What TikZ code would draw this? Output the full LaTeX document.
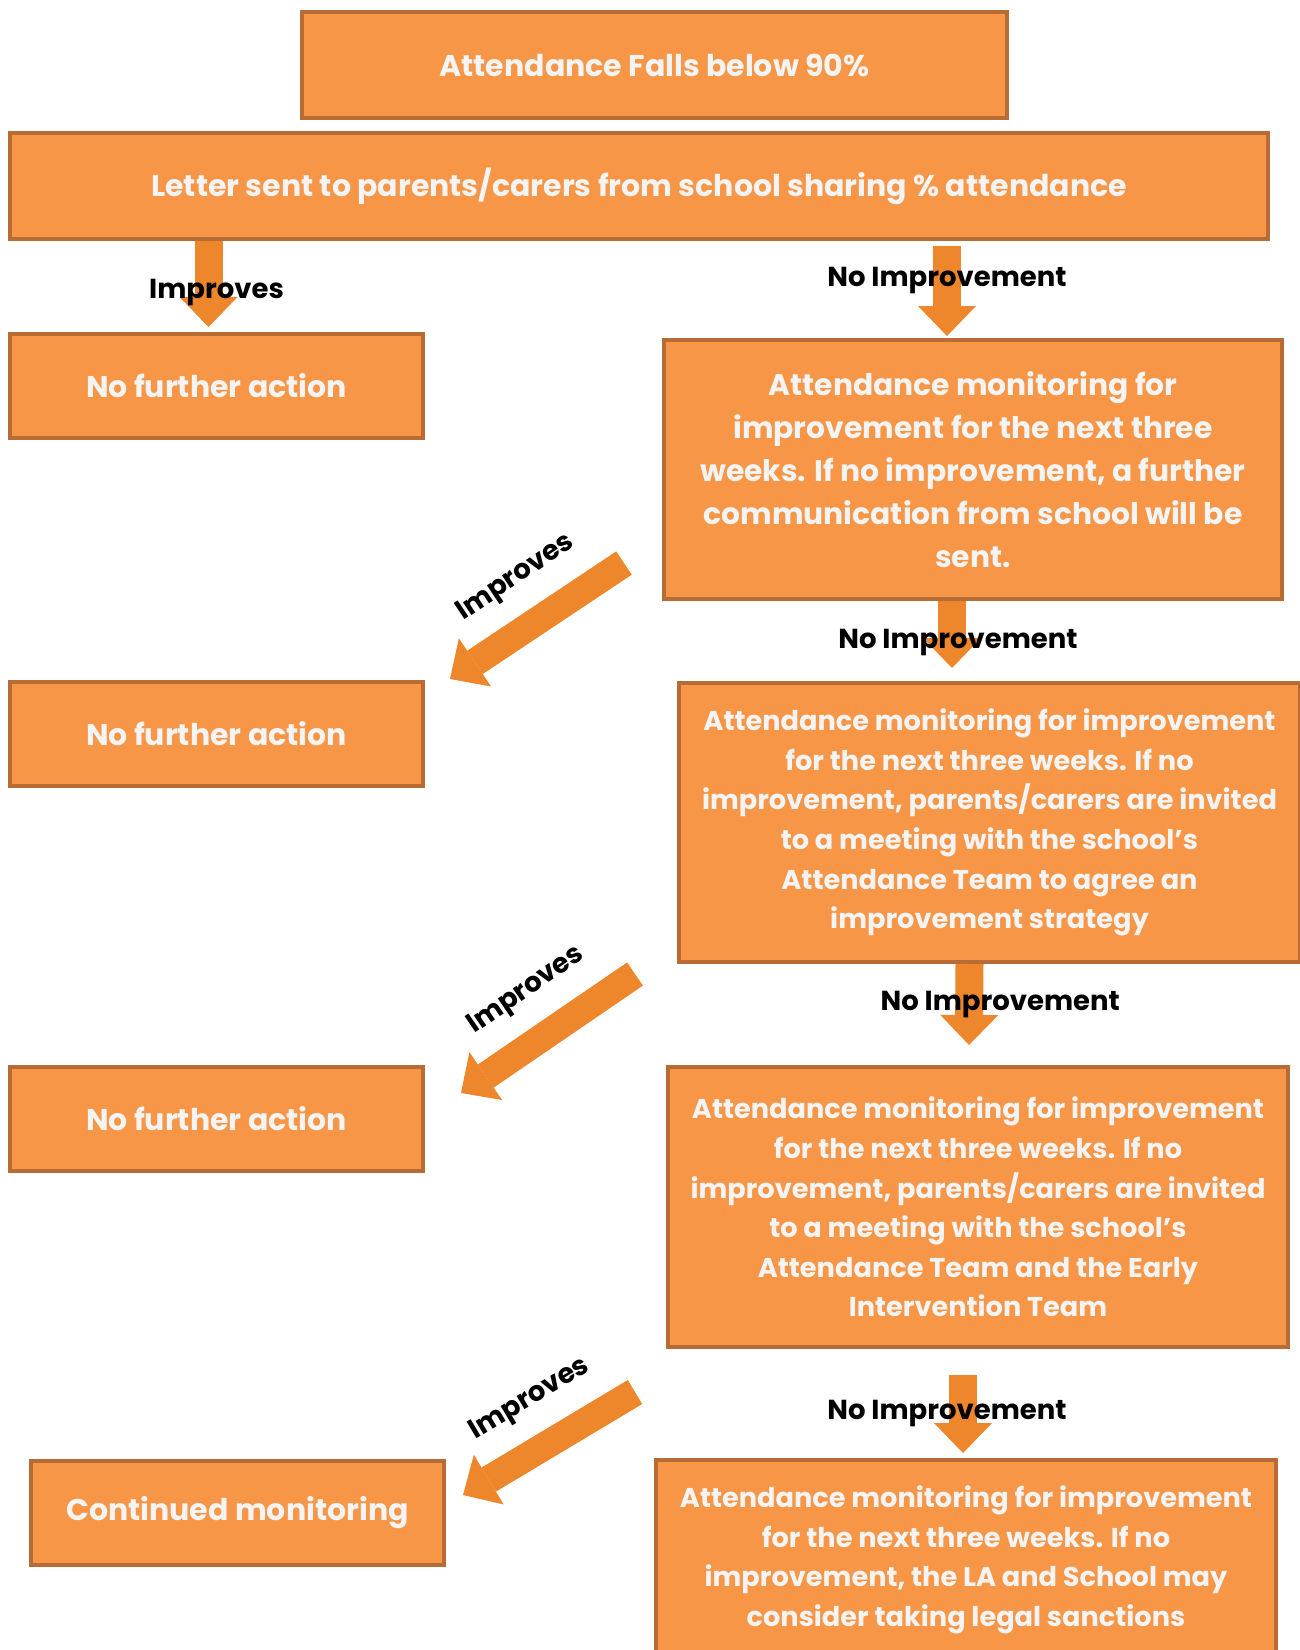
\documentclass[tikz,border=0pt]{standalone}
\usepackage{fontspec}
\setmainfont{Poppins}
\usetikzlibrary{arrows.meta}

\definecolor{boxfill}{RGB}{247,150,70}
\definecolor{boxedge}{RGB}{182,108,52}
\definecolor{boxtext}{RGB}{244,244,244}
\definecolor{arrowfill}{RGB}{238,134,44}

\tikzset{
  box/.style={draw=boxedge, fill=boxfill, line width=4pt, text=boxtext,
    align=center, inner sep=0pt, anchor=north west,
    font=\fontsize{27.2}{39.6}\selectfont\bfseries},
  onebox/.style={box, font=\fontsize{30}{36}\selectfont\bfseries},
  bigbox/.style={box, font=\fontsize{29.8}{42.9}\selectfont\bfseries},
  fat/.style={draw=arrowfill, line width=28pt,
    -{Triangle[width=58pt,length=30pt,line width=0pt]}},
  tag/.style={text=black, inner sep=0pt,
    font=\fontsize{27.5}{30}\selectfont\bfseries},
}

\begin{document}
\begin{tikzpicture}[x=1pt, y=-1pt]
  \useasboundingbox[fill=white] (0,0) rectangle (1300,1650);

  % boxes down the page
  \node[onebox, minimum width=705pt, minimum height=106pt] (start) at (300,10)
    {Attendance Falls below 90\%};
  \node[onebox, minimum width=1258pt, minimum height=106pt] (letter) at (8,131)
    {Letter sent to parents/carers from school sharing \% attendance};

  \node[onebox, minimum width=413pt, minimum height=104pt] (nfa1) at (8,332)
    {No further action};
  \node[bigbox, minimum width=618pt, minimum height=259pt] (watch1) at (662,338)
    {Attendance monitoring for\\improvement for the next three\\weeks. If no improvement, a further\\communication from school will be\\sent.};

  \node[onebox, minimum width=413pt, minimum height=104pt] (nfa2) at (8,680)
    {No further action};
  \node[box, minimum width=621pt, minimum height=279pt] (watch2) at (677,681)
    {Attendance monitoring for improvement\\for the next three weeks. If no\\improvement, parents/carers are invited\\to a meeting with the school’s\\Attendance Team to agree an\\improvement strategy};

  \node[onebox, minimum width=413pt, minimum height=104pt] (nfa3) at (8,1065)
    {No further action};
  \node[box, minimum width=620pt, minimum height=280pt] (watch3) at (666,1065)
    {Attendance monitoring for improvement\\for the next three weeks. If no\\improvement, parents/carers are invited\\to a meeting with the school’s\\Attendance Team and the Early\\Intervention Team};

  \node[onebox, minimum width=413pt, minimum height=104pt] (cont) at (29,1459)
    {Continued monitoring};
  \node[box, minimum width=620pt, minimum height=200pt] (watch4) at (654,1458)
    {Attendance monitoring for improvement\\for the next three weeks. If no\\improvement, the LA and School may\\consider taking legal sanctions};

  % free ends of the slanted arrows
  \coordinate (up1) at (624,563);
  \coordinate (dn1) at (450,679);
  \coordinate (up2) at (635,974);
  \coordinate (dn2) at (461,1093);
  \coordinate (up3) at (635,1392);
  \coordinate (dn3) at (463,1495);

  % straight arrows
  \draw[fat] ([xshift=-8pt]nfa1.north |- letter.south)
    -- node[tag, pos=.6, xshift=8pt] {Improves} ([xshift=-8pt, yshift=5pt]nfa1.north);
  \draw[fat] ([xshift=-26pt, yshift=-5pt]watch1.north |- letter.south)
    -- node[tag, pos=.38] {No Improvement} ([xshift=-26pt, yshift=2pt]watch1.north);
  \draw[fat] ([xshift=-21pt]watch1.south)
    -- node[tag, pos=.62, xshift=6pt] {No Improvement} ([xshift=-21pt, yshift=13pt]watch1.south |- watch2.north);
  \draw[fat] ([xshift=-20pt]watch2.south)
    -- node[tag, pos=.5, xshift=31pt] {No Improvement} ([xshift=-9pt, yshift=20pt]watch3.north);
  \draw[fat] ([xshift=-3pt, yshift=-26pt]watch4.north |- watch3.south)
    -- node[tag, pos=.49, xshift=-16pt] {No Improvement} ([xshift=-3pt, yshift=5pt]watch4.north);

  % slanted arrows
  \draw[fat] (up1) -- node[tag, sloped, above=20pt, pos=.47] {Improves} (dn1);
  \draw[fat] (up2) -- node[tag, sloped, above=20pt, pos=.47] {Improves} (dn2);
  \draw[fat] (up3) -- node[tag, sloped, above=20pt, pos=.47] {Improves} (dn3);
\end{tikzpicture}
\end{document}
